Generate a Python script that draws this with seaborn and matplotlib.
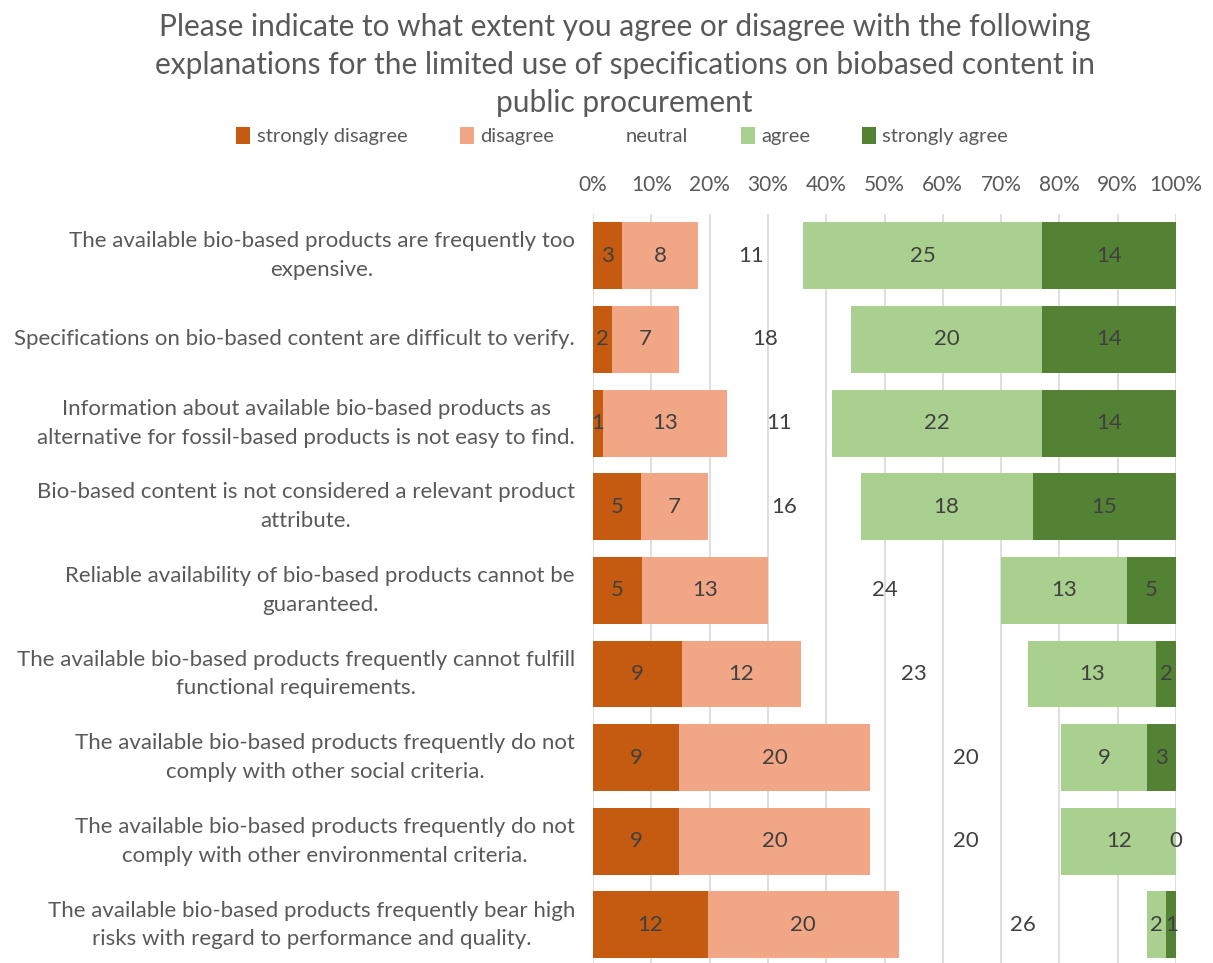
import numpy as np
import pandas as pd
import matplotlib
matplotlib.use("Agg")
import matplotlib.pyplot as plt
from matplotlib.patches import Patch
from matplotlib.ticker import PercentFormatter, MultipleLocator
import seaborn as sns

# Survey statements (bar order, top to bottom)
statements = [
    "The available bio-based products are frequently too\nexpensive.",
    "Specifications on bio-based content are difficult to verify.",
    "Information about available bio-based products as\nalternative for fossil-based products is not easy to find.",
    "Bio-based content is not considered a relevant product\nattribute.",
    "Reliable availability of bio-based products cannot be\nguaranteed.",
    "The available bio-based products frequently cannot fulfill\nfunctional requirements.",
    "The available bio-based products frequently do not\ncomply with other social criteria.",
    "The available bio-based products frequently do not\ncomply with other environmental criteria.",
    "The available bio-based products frequently bear high\nrisks with regard to performance and quality.",
]

levels = ["strongly disagree", "disagree", "neutral", "agree", "strongly agree"]

# Number of respondents per answer level
strongly_disagree = [3, 2, 1, 5, 5, 9, 9, 9, 12]
disagree = [8, 7, 13, 7, 13, 12, 20, 20, 20]
neutral = [11, 18, 11, 16, 24, 23, 20, 20, 26]
agree = [25, 20, 22, 18, 13, 13, 9, 12, 2]
strongly_agree = [14, 14, 14, 15, 5, 2, 3, 0, 1]

colors = ["#C55A11", "#F1A686", "none", "#A9D08E", "#548235"]

TEXT = "#595959"
LABEL = "#404040"

counts = pd.DataFrame(
    np.array([strongly_disagree, disagree, neutral, agree, strongly_agree]).T,
    columns=levels,
)
counts.insert(0, "statement", statements)
totals = counts[levels].sum(axis=1)
shares = counts[levels].div(totals, axis=0) * 100
lefts = shares.cumsum(axis=1) - shares

sns.set_theme(style="white")
plt.rcParams["font.family"] = ["Lato", "DejaVu Sans"]

fig = plt.figure(figsize=(12.13, 9.63), dpi=100)
ax = fig.add_axes([593 / 1213, 0.0, (1176 - 593) / 1213, 1 - 214 / 963])

for lvl, col in zip(levels, colors):
    df = pd.DataFrame({
        "statement": statements,
        "share": shares[lvl].values,
        "left": lefts[lvl].values,
    })
    sns.barplot(
        data=df, x="share", y="statement", orient="h", ax=ax,
        left=df["left"].values, color=col if col != "none" else "white",
        fill=True, width=0.8, linewidth=0, saturation=1,
        alpha=0 if col == "none" else 1,
    )
    ax.bar_label(
        ax.containers[-1], labels=[str(v) for v in counts[lvl]],
        label_type="center", color=LABEL, fontsize=16,
    )

ax.set_xlim(0, 100)
ax.set_ylim(8.455, -0.5)
ax.xaxis.set_major_locator(MultipleLocator(10))
ax.xaxis.set_major_formatter(PercentFormatter(decimals=0))
ax.xaxis.tick_top()
ax.tick_params(axis="x", length=0, pad=14, labelsize=15, labelcolor=TEXT)
ax.tick_params(axis="y", length=0, pad=13, labelsize=16, labelcolor=TEXT)
for lab in ax.get_yticklabels():
    lab.set_horizontalalignment("right")
    lab.set_verticalalignment("center")
    lab.set_multialignment("center")
    lab.set_linespacing(1.55)
ax.set_xlabel("")
ax.set_ylabel("")
ax.grid(axis="x", color="#D9D9D9", linewidth=1.2)
ax.set_axisbelow(True)
for sp in ax.spines.values():
    sp.set_visible(False)

fig.text(
    0.515, 1 - 13 / 963,
    "Please indicate to what extent you agree or disagree with the following\n"
    "explanations for the limited use of specifications on biobased content in\n"
    "public procurement",
    ha="center", va="top", fontsize=21.5, color=TEXT, linespacing=1.43,
)

handles = [
    Patch(facecolor=c if c != "none" else "white", edgecolor="none", label=l)
    for l, c in zip(levels, colors)
]
fig.legend(
    handles=handles, loc="center", bbox_to_anchor=(0.513, 1 - 136 / 963),
    ncol=5, frameon=False, fontsize=14.5, handlelength=0.7, handleheight=0.9,
    handletextpad=0.3, columnspacing=2.6, labelcolor=TEXT,
)

fig.savefig("out.png", dpi=100)
